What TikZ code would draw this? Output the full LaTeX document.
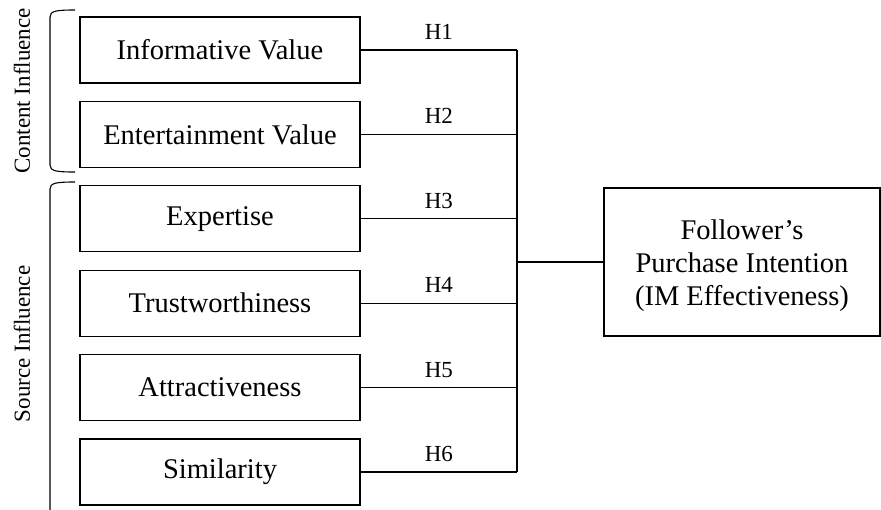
\documentclass[tikz,border=0pt]{standalone}
\usepackage{fontspec}
\setmainfont{Liberation Serif}
\begin{document}
\begin{tikzpicture}[x=1pt,y=-1pt,
  line width=1.2pt,
  inbox/.style={draw, rectangle, minimum width=280pt, minimum height=66pt, inner sep=0pt, font=\fontsize{28.5}{33}\selectfont},
  outbox/.style={draw, rectangle, minimum width=276pt, minimum height=148pt, inner sep=0pt, font=\fontsize{28.5}{33}\selectfont},
  hlab/.style={midway, anchor=base, yshift=10.5pt, inner sep=0pt, font=\fontsize{23}{25}\selectfont},
  grp/.style={rotate=90, inner sep=0pt, font=\fontsize{23}{26}\selectfont},
  brk/.style={line width=1.1pt}]
\useasboundingbox (0,0) rectangle (881,509);
\node[inbox] (b1) at (220,50) {Informative Value};
\node[inbox] (b2) at (220,134.4) {Entertainment Value};
\node[inbox] (b3) at (220,218.8) {Expertise};
\node[inbox] (b4) at (220,303.2) {Trustworthiness};
\node[inbox] (b5) at (220,387.6) {Attractiveness};
\node[inbox] (b6) at (220,472) {Similarity};
\node[outbox] (out) at (742,262) {\raisebox{-4pt}[\height][\depth]{\begin{tabular}{@{}c@{}}Follower’s\\Purchase Intention\\(IM Effectiveness)\end{tabular}}};
\coordinate (bus) at (517,262);
\draw (b1.east) -- (b1.east -| bus) node[hlab] {H1};
\draw (b2.east) -- (b2.east -| bus) node[hlab] {H2};
\draw (b3.east) -- (b3.east -| bus) node[hlab] {H3};
\draw (b4.east) -- (b4.east -| bus) node[hlab] {H4};
\draw (b5.east) -- (b5.east -| bus) node[hlab] {H5};
\draw (b6.east) -- (b6.east -| bus) node[hlab] {H6};
\draw (b1.east -| bus) -- (b6.east -| bus);
\draw (bus) -- (out.west);
% brackets
\draw[brk] (75,10) .. controls (56,10) and (50,11) .. (50,17) -- (50,165) .. controls (50,171) and (56,172) .. (75,172);
\draw[brk] (75,182) .. controls (56,182) and (50,183) .. (50,189) -- (50,515);
\node[grp] (g1) at (22,91) {Content Influence};
\node[grp] (g2) at (22,344) {Source Influence};
\end{tikzpicture}
\end{document}
